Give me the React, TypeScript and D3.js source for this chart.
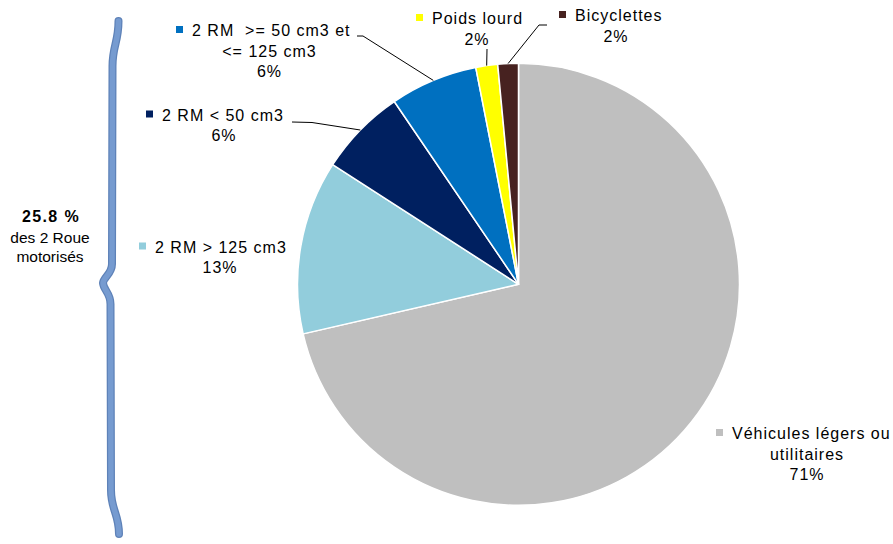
import React from "react";
import * as d3 from "d3";

// Répartition des véhicules impliqués (en %)
const categories = [
  "Véhicules légers ou utilitaires",
  "2 RM > 125 cm3",
  "2 RM < 50 cm3",
  "2 RM  >= 50 cm3 et <= 125 cm3",
  "Poids lourd",
  "Bicyclettes",
];
const shares = [71.4, 12.7, 6.4, 6.4, 1.6, 1.5];
// Label text split into the lines as displayed
const labelLines = [
  ["Véhicules légers ou", "utilitaires"],
  ["2 RM > 125 cm3"],
  ["2 RM < 50 cm3"],
  ["2 RM  >= 50 cm3 et", "<= 125 cm3"],
  ["Poids lourd"],
  ["Bicyclettes"],
];
const braceTitle = "25.8 %";
const braceLines = ["des 2 Roue", "motorisés"];

const palette = ["#BFBFBF", "#92CDDC", "#002060", "#0070C0", "#FFFF00", "#472220"];

// Where each label block sits, and the first bends of its leader line
type LabelPos = { x: number; y: number; cx: number; leader?: [number, number][] };
const labelPos: LabelPos[] = [
  { x: 732, y: 439, cx: 807 },
  { x: 155, y: 252.5, cx: 220 },
  { x: 162, y: 120.5, cx: 224, leader: [[292, 122], [312, 122.5]] },
  { x: 192, y: 36, cx: 269.5, leader: [[357, 36], [363, 36]] },
  { x: 432, y: 24, cx: 477, leader: [[487, 49]] },
  { x: 575, y: 21, cx: 616, leader: [[547, 25], [539, 25]] },
];

const W = 893;
const H = 544;
const CX = 518.5;
const CY = 284.3;
const R = 221;
const LINE = 20.5;
const FONT = "'Liberation Sans', Arial, sans-serif";
const BRACE =
  "M118.5 21 C118.5 42 112.5 46 112.5 66 L112 264 C112 274 103.5 277 103 283 C103.5 290 110.5 293 110.5 304 L111 490 C111 510 119 514 119 534";

type Datum = { name: string; value: number; i: number };

export default function App() {
  const data: Datum[] = categories.map((name, i) => ({ name, value: shares[i], i }));
  const pie = d3
    .pie<Datum>()
    .sort(null)
    .value((d) => d.value)
    .startAngle(0)
    .endAngle(2 * Math.PI);
  const arcs = pie(data);
  const arc = d3.arc<d3.PieArcDatum<Datum>>().innerRadius(0).outerRadius(R);

  const rimPoint = (a: d3.PieArcDatum<Datum>): [number, number] => {
    const m = (a.startAngle + a.endAngle) / 2;
    return [CX + R * Math.sin(m), CY - R * Math.cos(m)];
  };
  const line = d3.line();

  return (
    <svg
      width={W}
      height={H}
      viewBox={`0 0 ${W} ${H}`}
      style={{ position: "absolute", left: 0, top: 0, background: "#fff" }}
    >
      <rect width={W} height={H} fill="#fff" />

      {/* brace grouping the motorised two-wheelers */}
      <g fill="none" strokeLinecap="round" strokeLinejoin="round">
        <path d={BRACE} stroke="#5e82b8" strokeWidth={8} />
        <path d={BRACE} stroke="#769bd0" strokeWidth={5.5} />
      </g>
      <g fontFamily={FONT} fill="#000" textAnchor="middle">
        <text x={51} y={221.5} fontSize={16} fontWeight="bold" letterSpacing={1.4}>
          {braceTitle}
        </text>
        {braceLines.map((t, k) => (
          <text key={t} x={50} y={242.5 + k * 19} fontSize={15.5}>
            {t}
          </text>
        ))}
      </g>

      {/* slices */}
      <g transform={`translate(${CX},${CY})`}>
        {arcs.map((a) => (
          <path
            key={a.data.name}
            d={arc(a) || ""}
            fill={palette[a.data.i]}
            stroke="#fff"
            strokeWidth={1.5}
            strokeLinejoin="round"
          />
        ))}
      </g>

      {/* leader lines */}
      <g fill="none" stroke="#000" strokeWidth={1}>
        {arcs.map((a) => {
          const p = labelPos[a.data.i];
          if (!p.leader) return null;
          const pts = [...p.leader, rimPoint(a)];
          return <path key={a.data.name} d={line(pts) || ""} />;
        })}
      </g>

      {/* labels */}
      <g fontFamily={FONT} fontSize={16} fill="#000" letterSpacing={1}>
        {arcs.map((a) => {
          const i = a.data.i;
          const p = labelPos[i];
          const lines = labelLines[i];
          const pct = `${Math.round(a.data.value)}%`;
          const rest = [...lines.slice(1), pct];
          return (
            <g key={a.data.name}>
              <rect x={p.x - 16} y={p.y - 10} width={7} height={7} fill={palette[i]} />
              <text x={p.x} y={p.y} style={{ whiteSpace: "pre" }}>
                {lines[0]}
              </text>
              {rest.map((t, k) => (
                <text key={k} x={p.cx} y={p.y + (k + 1) * LINE} textAnchor="middle">
                  {t}
                </text>
              ))}
            </g>
          );
        })}
      </g>
    </svg>
  );
}
